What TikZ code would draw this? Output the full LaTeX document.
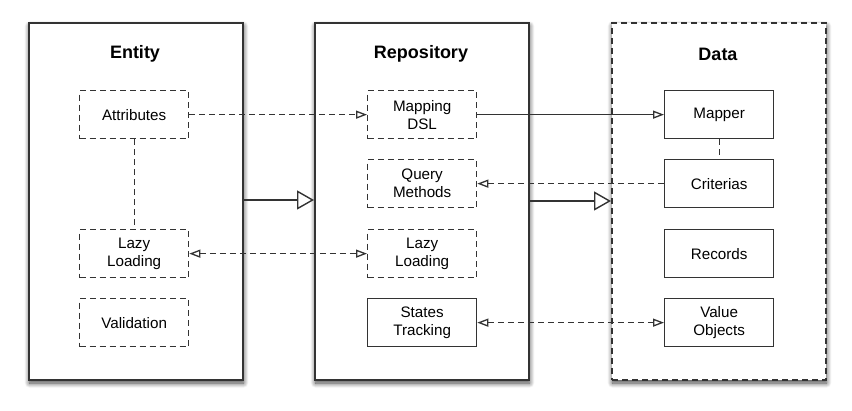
\documentclass[tikz,border=0pt]{standalone}
\usepackage{fontspec}
\setmainfont{Liberation Sans}
\usetikzlibrary{arrows.meta,shadows.blur}
\definecolor{ln}{HTML}{333333}
\tikzset{
  x=1pt, y=-1pt,
  outerbox/.style={draw=ln, line width=2pt, fill=white, anchor=north west, inner sep=0pt,
    minimum width=214pt, minimum height=357pt,
    blur shadow={shadow xshift=0.5pt, shadow yshift=-3pt, shadow blur radius=5pt, shadow blur steps=12, shadow opacity=75}},
  innerbox/.style={draw=ln, line width=1.3pt, fill=white, anchor=north west, inner sep=0pt,
    minimum width=109pt, minimum height=48pt, align=center,
    font=\fontsize{15.2}{18}\selectfont},
  dashbox/.style={innerbox, dash pattern=on 6pt off 4pt},
  title/.style={font=\fontsize{18}{21}\selectfont\bfseries},
  dline/.style={draw=ln, line width=1.3pt, dash pattern=on 6pt off 4pt},
  sline/.style={draw=ln, line width=1.3pt},
  smalltip/.style={-{Triangle[open, length=11pt, width=8pt, line width=1.3pt]}},
  bothtip/.style={{Triangle[open, length=11pt, width=8pt, line width=1.3pt]}-{Triangle[open, length=11pt, width=8pt, line width=1.3pt]}},
  bigtip/.style={-{Triangle[open, length=17pt, width=19pt, line width=1.4pt]}},
}
\begin{document}
\begin{tikzpicture}
\useasboundingbox (0,0) rectangle (852,411);
% outer boxes
\node[outerbox] (entity) at (28,22) {};
\node[outerbox] (repo) at (314,22) {};
\node[outerbox, dash pattern=on 6pt off 4pt] (data) at (611,22) {};
% titles
\node[title] (tentity) at (135,54) {Entity};
\node[title] (trepo) at (421,54) {Repository};
\node[title] (tdata) at (718,54) {Data};
% entity
\node[dashbox] (attr) at (79,90) {Attributes};
\node[dashbox] (elazy) at (79,229) {Lazy\\Loading};
\node[dashbox] (valid) at (79,298) {Validation};
% repository
\node[dashbox] (mdsl) at (367,90) {Mapping\\DSL};
\node[dashbox] (query) at (367,159) {Query\\Methods};
\node[dashbox] (rlazy) at (367,229) {Lazy\\Loading};
\node[innerbox] (states) at (367,298) {States\\Tracking};
% data
\node[innerbox] (mapper) at (664,90) {Mapper};
\node[innerbox] (crit) at (664,159) {Criterias};
\node[innerbox] (records) at (664,229) {Records};
\node[innerbox] (value) at (664,298) {Value\\Objects};
% connectors
\draw[dline, smalltip] (attr.east) -- (mdsl.west);
\draw[dline] (attr.south) -- (elazy.north);
\draw[dline, bothtip] (elazy.east) -- (rlazy.west);
\draw[sline, smalltip] (mdsl.east) -- (mapper.west);
\draw[dline] (mapper.south) -- (crit.north);
\draw[dline, smalltip] (crit.west) -- (query.east);
\draw[dline, bothtip] (states.east) -- (value.west);
\draw[sline, bigtip] (entity.east |- 0,200) -- (repo.west |- 0,200);
\draw[sline, bigtip] (repo.east |- 0,201) -- (data.west |- 0,201);
\end{tikzpicture}
\end{document}
